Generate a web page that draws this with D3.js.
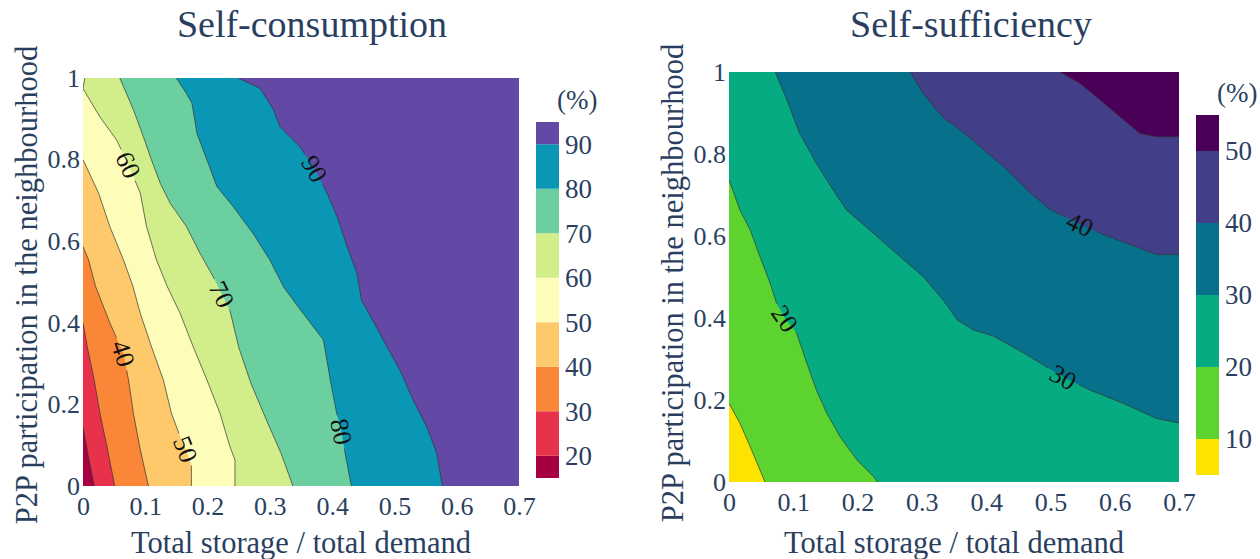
<!DOCTYPE html>
<html lang="en">
<head>
<meta charset="UTF-8">
<title>Self-consumption / Self-sufficiency</title>
<script src="https://cdn.jsdelivr.net/npm/d3@7"></script>
<style>
*{margin:0; padding:0;}
body{background:#fff;}
svg, svg text{font-family:"Liberation Serif","Times New Roman",serif !important; fill:#2a3f5f;}
</style>
</head>
<body>
<script>
// axes
var xTicks = [0, 0.1, 0.2, 0.3, 0.4, 0.5, 0.6, 0.7];
var yTicks = [0, 0.2, 0.4, 0.6, 0.8, 1];

// Self-consumption: contour levels (%) and each level's boundary [storage ratio, P2P participation]
var scLevels = [20, 30, 40, 50, 60, 70, 80, 90];
var scColors = ["#a60042", "#e8314b", "#fa8638", "#fdc96b", "#fefcb9", "#d2ee8b", "#6ccfa0", "#0a96b5", "#6349a5"];
var scBarRange = [15, 95];
var sc20 = [[0, 0.145], [0.009, 0.07], [0.018, 0]];
var sc30 = [[0, 0.40], [0.007, 0.34], [0.018, 0.26], [0.027, 0.18], [0.038, 0.10], [0.051, 0]];
var sc40 = [[0, 0.587], [0.009, 0.554], [0.02, 0.49], [0.043, 0.40], [0.065, 0.325], [0.073, 0.26],
	[0.081, 0.178], [0.091, 0.096], [0.105, 0]];
var sc50 = [[0, 0.80], [0.025, 0.718], [0.043, 0.636], [0.065, 0.554], [0.08, 0.49], [0.092, 0.423],
	[0.110, 0.341], [0.129, 0.26], [0.142, 0.178], [0.156, 0.121], [0.165, 0.09], [0.174, 0.051], [0.174, 0]];
var sc60 = [[0.003, 1], [0, 0.974], [0.027, 0.905], [0.054, 0.848], [0.073, 0.787], [0.092, 0.718],
	[0.102, 0.636], [0.118, 0.554], [0.135, 0.49], [0.156, 0.423], [0.177, 0.341], [0.199, 0.26],
	[0.220, 0.178], [0.236, 0.096], [0.244, 0.064], [0.244, 0]];
var sc70 = [[0.059, 1], [0.081, 0.922], [0.097, 0.856], [0.110, 0.799], [0.124, 0.742], [0.140, 0.693],
	[0.166, 0.636], [0.188, 0.570], [0.209, 0.513], [0.223, 0.47], [0.236, 0.43], [0.25, 0.34],
	[0.27, 0.25], [0.295, 0.16], [0.318, 0.08], [0.337, 0]];
var sc80 = [[0.150, 1], [0.166, 0.962], [0.175, 0.938], [0.183, 0.864], [0.199, 0.799], [0.215, 0.734],
	[0.241, 0.685], [0.273, 0.619], [0.300, 0.554], [0.322, 0.488], [0.345, 0.44], [0.386, 0.358],
	[0.397, 0.26], [0.407, 0.18], [0.415, 0.133], [0.422, 0.07], [0.431, 0]];
var sc90 = [[0.249, 1], [0.284, 0.975], [0.306, 0.922], [0.316, 0.881], [0.348, 0.832], [0.372, 0.778],
	[0.392, 0.717], [0.408, 0.660], [0.424, 0.587], [0.440, 0.521], [0.447, 0.456], [0.471, 0.390],
	[0.488, 0.341], [0.509, 0.284], [0.530, 0.211], [0.552, 0.145], [0.568, 0.080], [0.577, 0]];
// [level, index of the boundary point carrying the label]
var scLabels = [[40, 4], [50, 10], [60, 4], [70, 9], [80, 14], [90, 5]];

// Self-sufficiency
var ssLevels = [10, 20, 30, 40, 50];
var ssColors = ["#fde400", "#5dd330", "#06ab82", "#07718b", "#433e88", "#4b0058"];
var ssBarRange = [5, 55];
var ss10 = [[0, 0.192], [0.017, 0.143], [0.033, 0.086], [0.046, 0.037], [0.056, 0]];
var ss20 = [[0, 0.737], [0.017, 0.663], [0.033, 0.615], [0.048, 0.550], [0.064, 0.485], [0.074, 0.436],
	[0.087, 0.399], [0.105, 0.364], [0.121, 0.290], [0.136, 0.224], [0.152, 0.168], [0.173, 0.110],
	[0.199, 0.054], [0.225, 0.013], [0.231, 0]];
var ss30 = [[0.072, 1], [0.090, 0.932], [0.110, 0.850], [0.136, 0.777], [0.162, 0.712], [0.183, 0.663],
	[0.225, 0.606], [0.266, 0.550], [0.302, 0.501], [0.335, 0.44], [0.355, 0.395], [0.380, 0.371],
	[0.411, 0.356], [0.458, 0.315], [0.52, 0.256], [0.562, 0.224], [0.613, 0.192], [0.665, 0.155], [0.7, 0.144]];
var ss40 = [[0.282, 1], [0.302, 0.948], [0.323, 0.907], [0.336, 0.885], [0.359, 0.860], [0.396, 0.811],
	[0.432, 0.762], [0.468, 0.706], [0.499, 0.665], [0.546, 0.629], [0.588, 0.600], [0.629, 0.576],
	[0.665, 0.555], [0.7, 0.555]];
var ss50 = [[0.515, 1], [0.546, 0.972], [0.577, 0.932], [0.608, 0.891], [0.639, 0.850], [0.665, 0.842], [0.7, 0.842]];
var ssLabels = [[20, 6], [30, 14], [40, 9]];

var width = 1260, height = 559;
var serif = '"Liberation Serif", "Times New Roman", serif';
var svg = d3.select("body").append("svg")
	.attr("width", width)
	.attr("height", height)
	.style("font-family", serif);

var fmt = function(d){ return d3.format("~g")(d); };

function drawChart(c) {
	var x = d3.scaleLinear().domain([0, 0.7]).range([c.x0, c.x1]);
	var y = d3.scaleLinear().domain([0, 1]).range([c.y1, c.y0]);
	var line = d3.line().x(function(d){ return x(d[0]); }).y(function(d){ return y(d[1]); });
	var defs = svg.append("defs");

	defs.append("clipPath").attr("id", "clip-" + c.id)
		.append("rect")
		.attr("x", c.x0).attr("y", c.y0)
		.attr("width", c.x1 - c.x0).attr("height", c.y1 - c.y0);

	var g = svg.append("g");
	var plot = g.append("g").attr("clip-path", "url(#clip-" + c.id + ")");

	// lowest band, then every band above a level painted on top
	plot.append("rect")
		.attr("x", c.x0).attr("y", c.y0)
		.attr("width", c.x1 - c.x0).attr("height", c.y1 - c.y0)
		.attr("fill", c.colors[0]);

	c.lines.forEach(function(pts, i){
		var poly = pts.slice();
		var first = pts[0], last = pts[pts.length - 1];
		if (last[1] === 0) poly.push([0.7, 0]);
		poly.push([0.7, 1]);
		if (first[0] === 0) poly.push([0, 1]);
		plot.append("path")
			.attr("d", line(poly) + "Z")
			.attr("fill", c.colors[i + 1]);
	});

	// label placement along the lines
	var labels = c.labels.map(function(l){
		var pts = c.lines[c.levels.indexOf(l[0])];
		var p = pts[l[1]], a = pts[l[1] - 1], b = pts[l[1] + 1];
		var ang = Math.atan2(y(b[1]) - y(a[1]), x(b[0]) - x(a[0])) * 180 / Math.PI;
		if (ang > 90) ang -= 180;
		if (ang < -90) ang += 180;
		return {text: l[0], px: x(p[0]), py: y(p[1]), ang: ang};
	});

	var mask = defs.append("mask").attr("id", "mask-" + c.id)
		.attr("maskUnits", "userSpaceOnUse")
		.attr("x", 0).attr("y", 0).attr("width", width).attr("height", height);
	mask.append("rect").attr("width", width).attr("height", height).attr("fill", "#fff");
	mask.selectAll("rect.hole")
		.data(labels)
		.enter()
		.append("rect")
		.attr("class", "hole")
		.attr("x", -17).attr("y", -10).attr("width", 34).attr("height", 20)
		.attr("fill", "#000")
		.attr("transform", function(d){ return "translate(" + d.px + "," + d.py + ") rotate(" + d.ang + ")"; });

	plot.append("g")
		.attr("mask", "url(#mask-" + c.id + ")")
		.selectAll("path")
		.data(c.lines)
		.enter()
		.append("path")
		.attr("d", line)
		.attr("fill", "none")
		.attr("stroke", "#333")
		.attr("stroke-width", 0.7);

	plot.append("g")
		.selectAll("text")
		.data(labels)
		.enter()
		.append("text")
		.attr("transform", function(d){ return "translate(" + d.px + "," + d.py + ") rotate(" + d.ang + ")"; })
		.attr("text-anchor", "middle")
		.attr("dy", "0.35em")
		.style("font-family", serif)
		.style("font-size", "26px")
		.style("fill", "#111")
		.text(function(d){ return d.text; });

	// axes
	var xAxis = g.append("g")
		.attr("transform", "translate(0," + c.y1 + ")")
		.call(d3.axisBottom(x).tickValues(xTicks).tickFormat(fmt).tickSize(0).tickPadding(11));
	var yAxis = g.append("g")
		.attr("transform", "translate(" + c.x0 + ",0)")
		.call(d3.axisLeft(y).tickValues(yTicks).tickFormat(fmt).tickSize(0).tickPadding(3));
	[xAxis, yAxis].forEach(function(a){
		a.select(".domain").remove();
		a.attr("font-family", serif).attr("font-size", null);
		a.selectAll("text")
			.attr("fill", "#2a3f5f")
			.style("font-family", serif)
			.style("font-size", "26px");
	});

	g.append("text")
		.attr("x", c.titleX).attr("y", 37)
		.attr("text-anchor", "middle")
		.style("font-family", serif)
		.style("font-size", "38px")
		.text(c.title);

	g.append("text")
		.attr("x", (c.x0 + c.x1) / 2).attr("y", 553)
		.attr("text-anchor", "middle")
		.style("font-family", serif)
		.style("font-size", "30.5px")
		.text("Total storage / total demand");

	g.append("text")
		.attr("transform", "translate(" + c.yTitleX + "," + c.yTitleY + ") rotate(-90)")
		.attr("text-anchor", "middle")
		.style("font-family", serif)
		.style("font-size", "30.5px")
		.text("P2P participation in the neighbourhood");

	// colour bar
	var cb = d3.scaleLinear().domain(c.barRange).range([c.barBottom, c.barTop]);
	var edges = [c.barRange[0]].concat(c.levels).concat([c.barRange[1]]);
	g.append("g")
		.selectAll("rect")
		.data(c.colors)
		.enter()
		.append("rect")
		.attr("x", c.barX).attr("width", 23)
		.attr("y", function(d, i){ return cb(edges[i + 1]); })
		.attr("height", function(d, i){ return cb(edges[i]) - cb(edges[i + 1]); })
		.attr("fill", function(d){ return d; });

	g.append("g")
		.selectAll("text")
		.data(c.levels)
		.enter()
		.append("text")
		.attr("x", c.barX + 29)
		.attr("y", function(d){ return cb(d); })
		.attr("dy", "0.35em")
		.style("font-family", serif)
		.style("font-size", "27px")
		.text(function(d){ return d; });

	g.append("text")
		.attr("x", c.barX + 21).attr("y", c.barTop - 22)
		.attr("dy", "0.35em")
		.style("font-family", serif)
		.style("font-size", "27px")
		.text("(%)");
}

drawChart({
	id: "sc", title: "Self-consumption", titleX: 312,
	x0: 83, x1: 519, y0: 78, y1: 486,
	yTitleX: 37, yTitleY: 285,
	levels: scLevels, colors: scColors,
	lines: [sc20, sc30, sc40, sc50, sc60, sc70, sc80, sc90],
	labels: scLabels,
	barRange: scBarRange, barX: 536, barTop: 122, barBottom: 478
});

drawChart({
	id: "ss", title: "Self-sufficiency", titleX: 971,
	x0: 729, x1: 1179, y0: 72, y1: 482,
	yTitleX: 683, yTitleY: 283,
	levels: ssLevels, colors: ssColors,
	lines: [ss10, ss20, ss30, ss40, ss50],
	labels: ssLabels,
	barRange: ssBarRange, barX: 1196, barTop: 115, barBottom: 475
});
</script>
</body>
</html>
